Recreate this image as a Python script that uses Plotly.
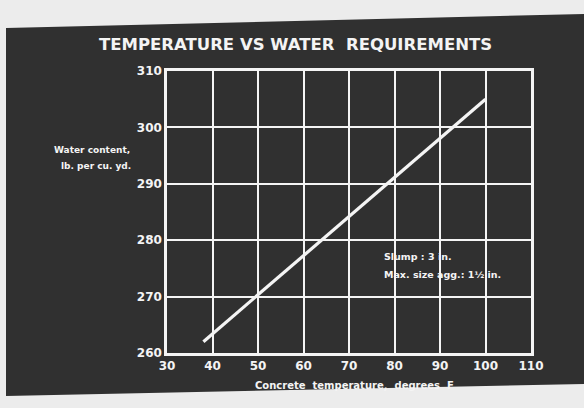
import plotly.graph_objects as go

# Water requirement of concrete as a function of its temperature
temperature_f = [38, 100]
water_lb_per_cuyd = [262, 305]

x_ticks = [30, 40, 50, 60, 70, 80, 90, 100, 110]
y_ticks = [260, 270, 280, 290, 300, 310]

W, H = 584, 408
L, R, T, B = 167, 53, 71, 55
PW, PH = W - L - R, H - T - B


def px(x):
    return (x - L) / PW


def py(y):
    return (H - B - y) / PH


card = "#303030"
ink = "#f4f4f4"
font = "DejaVu Sans"

fig = go.Figure()
fig.add_trace(go.Scatter(
    x=temperature_f, y=water_lb_per_cuyd, mode="lines",
    line=dict(color=ink, width=3.2), showlegend=False, hoverinfo="skip",
))

# dark mounting card, slightly skewed on the page
card_pts = [(6, 28), (584, 14), (584, 384), (6, 396)]
path = "M " + " L ".join(f"{px(a):.4f},{py(b):.4f}" for a, b in card_pts) + " Z"
fig.add_shape(type="path", path=path, xref="paper", yref="paper",
              fillcolor=card, line=dict(width=0), layer="below")

axis_common = dict(
    showgrid=True, gridcolor=ink, gridwidth=2,
    showline=True, linecolor=ink, linewidth=2.5, mirror=True,
    zeroline=False, ticks="", tickfont=dict(family=font, size=12, color=ink, weight="bold"),
)
fig.update_xaxes(range=[30, 110], tickvals=x_ticks, ticktext=[str(v) for v in x_ticks], **axis_common)
fig.update_yaxes(range=[260, 310], tickvals=y_ticks, ticktext=[str(v) for v in y_ticks], **axis_common)

notes = [
    dict(x=px(295), y=py(45), text="<b>TEMPERATURE VS WATER  REQUIREMENTS</b>", size=16.5, anchor="center"),
    dict(x=px(92), y=py(150), text="<b>Water content,</b>", size=9, anchor="center"),
    dict(x=px(96), y=py(166), text="<b>lb. per cu. yd.</b>", size=9, anchor="center"),
    dict(x=px(354), y=py(385), text="<b>Concrete  temperature,  degrees  F</b>", size=10, anchor="center"),
    dict(x=px(382), y=py(256), text="<b>Slump : 3 in.</b>", size=9.5, anchor="left"),
    dict(x=px(382), y=py(274), text="<b>Max. size agg.: 1½ in.</b>", size=9.5, anchor="left"),
]
for n in notes:
    fig.add_annotation(x=n["x"], y=n["y"], xref="paper", yref="paper", text=n["text"],
                       showarrow=False, xanchor=n["anchor"], yanchor="middle",
                       font=dict(family=font, size=n["size"], color=ink))

fig.update_layout(
    width=W, height=H,
    margin=dict(l=L, r=R, t=T, b=B),
    paper_bgcolor="#ececec", plot_bgcolor=card,
    showlegend=False,
)

fig.write_html("out.html")
